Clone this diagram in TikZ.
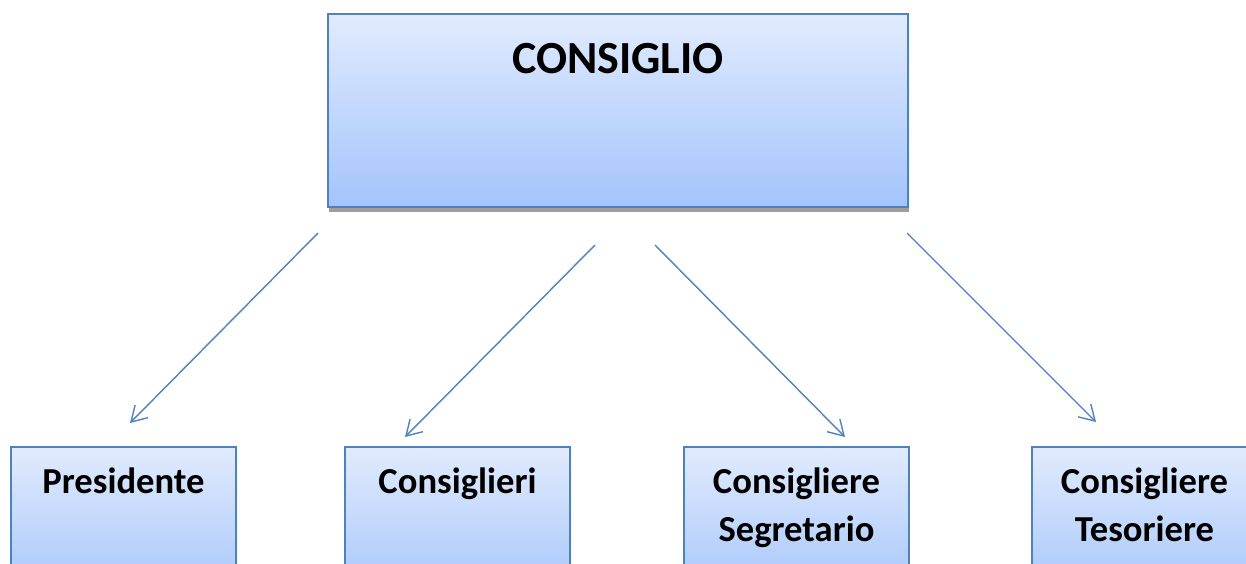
\documentclass[tikz,border=0pt]{standalone}
\usepackage{fontspec}
\setmainfont{Carlito}
\usetikzlibrary{arrows.meta, shadows}
\definecolor{boxline}{HTML}{4F81BD}
\definecolor{boxtop}{HTML}{E1EBFD}
\definecolor{boxbottom}{HTML}{A3C4FC}

\begin{document}
\begin{tikzpicture}[x=0.5pt, y=-0.5pt]
  \tikzstyle{box}=[rectangle, anchor=north west, draw=boxline, line width=0.75pt, top color=boxtop, bottom color=boxbottom, inner ysep=0pt, outer sep=0pt, align=center]
  \tikzstyle{council}=[box, minimum width=290pt, minimum height=96.5pt, text height=29.6pt, text depth=66.9pt, drop shadow={shadow xshift=0.5pt, shadow yshift=-2.5pt, fill=black!38, opacity=1}, font=\fontsize{23}{28}\selectfont\bfseries]
  \tikzstyle{office}=[box, minimum width=112.5pt, text height=23pt, text depth=55pt, font=\fontsize{18.3}{24}\selectfont\bfseries]
  \tikzstyle{office2}=[office, text height=47pt, text depth=31pt]
  \tikzstyle{arrow}=[draw=boxline, line width=0.7pt, -{Straight Barb[length=7.5pt, width=9pt]}]

  \useasboundingbox (0,0) rectangle (1246,563);
  \clip (0,0) rectangle (1246,563);

  \node (consiglio) [council] at (328,14) {CONSIGLIO};

  \node (presidente) [office] at (11,447) {Presidente};
  \node (consiglieri) [office] at (345,447) {Consiglieri};
  \node (segretario) [office2] at (684,447) {Consigliere\\Segretario};
  \node (tesoriere) [office2] at (1032,447) {Consigliere\\Tesoriere};

  % free ends of the arrows
  \coordinate (presFrom) at (318,233);
  \coordinate (presTo) at (130,423);
  \coordinate (consFrom) at (595,245);
  \coordinate (consTo) at (405,437);
  \coordinate (segrFrom) at (655,245);
  \coordinate (segrTo) at (845,437);
  \coordinate (tesoFrom) at (907,233);
  \coordinate (tesoTo) at (1096,422);

  \draw [arrow] (presFrom) -- (presTo);
  \draw [arrow] (consFrom) -- (consTo);
  \draw [arrow] (segrFrom) -- (segrTo);
  \draw [arrow] (tesoFrom) -- (tesoTo);
\end{tikzpicture}
\end{document}
